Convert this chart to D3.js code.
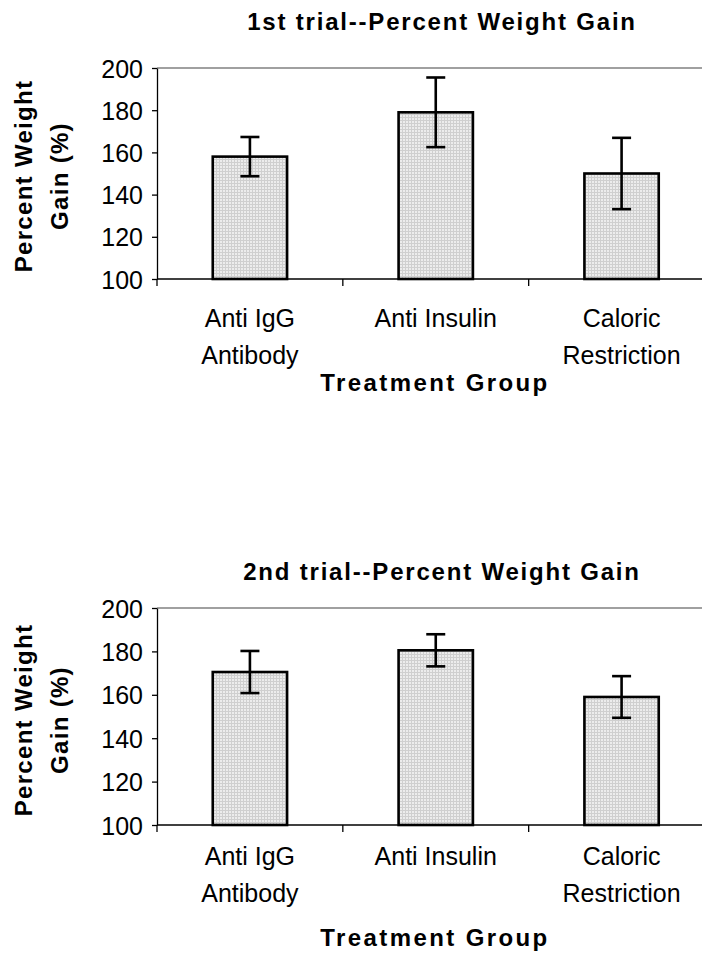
<!DOCTYPE html>
<html>
<head>
<meta charset="utf-8">
<script src="https://cdn.jsdelivr.net/npm/d3@7"></script>
<style>
  html, body { margin: 0; padding: 0; background: #fff; }
  svg { display: block; }
  text { font-family: "Liberation Sans", Arial, Helvetica, sans-serif; fill: #000; }
</style>
</head>
<body>
<script>
// ---- data ----
const categories = [["Anti IgG", "Antibody"], ["Anti Insulin"], ["Caloric", "Restriction"]];
const trial1Means = [158, 179, 150];
const trial1Errors = [9.3, 16.5, 16.9];
const trial2Means = [170.5, 180.5, 159];
const trial2Errors = [9.7, 7.4, 9.6];
const yTicks = [100, 120, 140, 160, 180, 200];
const chartTitles = ["1st trial--Percent Weight Gain", "2nd trial--Percent Weight Gain"];
const yLabelLines = ["Percent Weight", "Gain (%)"];
const xLabel = "Treatment Group";

const W = 702, H = 962;
const svg = d3.select("body").append("svg").attr("width", W).attr("height", H);

const defs = svg.append("defs");
const pat = defs.append("pattern").attr("id", "dots")
  .attr("patternUnits", "userSpaceOnUse").attr("width", 3).attr("height", 3);
pat.append("rect").attr("width", 3).attr("height", 3).attr("fill", "#ececec");
pat.append("rect").attr("width", 3).attr("height", 1).attr("fill", "#cfcfcf");
pat.append("rect").attr("width", 1).attr("height", 3).attr("fill", "#cfcfcf");

const layouts = [
  { top: 68, bottom: 279, titleY: 30, catY: 327, xTitleY: 391, ylabY: 176 },
  { top: 608, bottom: 825, titleY: 580, catY: 865, xTitleY: 946, ylabY: 720 }
];
const series = [
  { means: trial1Means, errs: trial1Errors },
  { means: trial2Means, errs: trial2Errors }
];

const left = 157, right = 714.5;

layouts.forEach((L, ci) => {
  const g = svg.append("g");
  const x = d3.scaleBand().domain(d3.range(categories.length)).range([left, right]).paddingInner(0.6).paddingOuter(0.3);
  const xb = d3.scaleBand().domain(d3.range(categories.length)).range([left, right]);
  const y = d3.scaleLinear().domain([100, 200]).range([L.bottom, L.top]);

  // plot area top border (gray)
  g.append("line").attr("x1", left).attr("x2", right).attr("y1", y(200)).attr("y2", y(200))
    .attr("stroke", "#808080").attr("stroke-width", 1.5);

  // bars
  const data = series[ci].means.map((m, i) => ({ i, m, e: series[ci].errs[i] }));
  g.selectAll("rect.bar").data(data).enter().append("rect").attr("class", "bar")
    .attr("x", d => x(d.i)).attr("width", x.bandwidth())
    .attr("y", d => y(d.m)).attr("height", d => y(100) - y(d.m))
    .attr("fill", "url(#dots)").attr("stroke", "#000").attr("stroke-width", 2.6);

  // error bars
  const capW = 19;
  data.forEach(d => {
    const cx = x(d.i) + x.bandwidth() / 2;
    g.append("line").attr("x1", cx).attr("x2", cx).attr("y1", y(d.m + d.e)).attr("y2", y(d.m - d.e))
      .attr("stroke", "#000").attr("stroke-width", 2.6);
    [d.m + d.e, d.m - d.e].forEach(v => {
      g.append("line").attr("x1", cx - capW / 2).attr("x2", cx + capW / 2).attr("y1", y(v)).attr("y2", y(v))
        .attr("stroke", "#000").attr("stroke-width", 2.6);
    });
  });

  // y axis
  const yAxis = g.append("g").attr("transform", `translate(${left},0)`)
    .call(d3.axisLeft(y).tickValues(yTicks).tickSize(5).tickPadding(9).tickSizeOuter(0));
  yAxis.select(".domain").attr("stroke", "#000").attr("stroke-width", 1.3);
  yAxis.selectAll(".tick line").attr("stroke", "#000").attr("stroke-width", 1.3);
  yAxis.selectAll(".tick text").style("font-size", "25px").attr("dy", "0.36em");

  // x axis line and ticks at category boundaries
  g.append("line").attr("x1", left).attr("x2", right).attr("y1", y(100)).attr("y2", y(100))
    .attr("stroke", "#000").attr("stroke-width", 1.3);
  d3.range(categories.length + 1).forEach(k => {
    const tx = k < categories.length ? xb(k) : right;
    g.append("line").attr("x1", tx).attr("x2", tx).attr("y1", y(100)).attr("y2", y(100) + 7)
      .attr("stroke", "#000").attr("stroke-width", 1.3);
  });

  // category labels
  categories.forEach((lines, i) => {
    const cx = xb(i) + xb.bandwidth() / 2;
    const t = g.append("text").attr("text-anchor", "middle").style("font-size", "25px");
    lines.forEach((ln, j) => {
      t.append("tspan").attr("x", cx).attr("y", L.catY + j * 37).text(ln);
    });
  });

  // title
  g.append("text").attr("x", 442).attr("y", L.titleY).attr("text-anchor", "middle")
    .style("font-size", "24px").style("font-weight", "bold").style("letter-spacing", "1.8px")
    .text(chartTitles[ci]);

  // x title
  g.append("text").attr("x", 435).attr("y", L.xTitleY).attr("text-anchor", "middle")
    .style("font-size", "24px").style("font-weight", "bold").style("letter-spacing", "2.4px")
    .text(xLabel);

  // y title (two rotated lines)
  [32, 68].forEach((bx, j) => {
    g.append("text").attr("transform", `translate(${bx},${L.ylabY}) rotate(-90)`)
      .attr("text-anchor", "middle")
      .style("font-size", "24px").style("font-weight", "bold").style("letter-spacing", "1.3px")
      .text(yLabelLines[j]);
  });
});
</script>
</body>
</html>
